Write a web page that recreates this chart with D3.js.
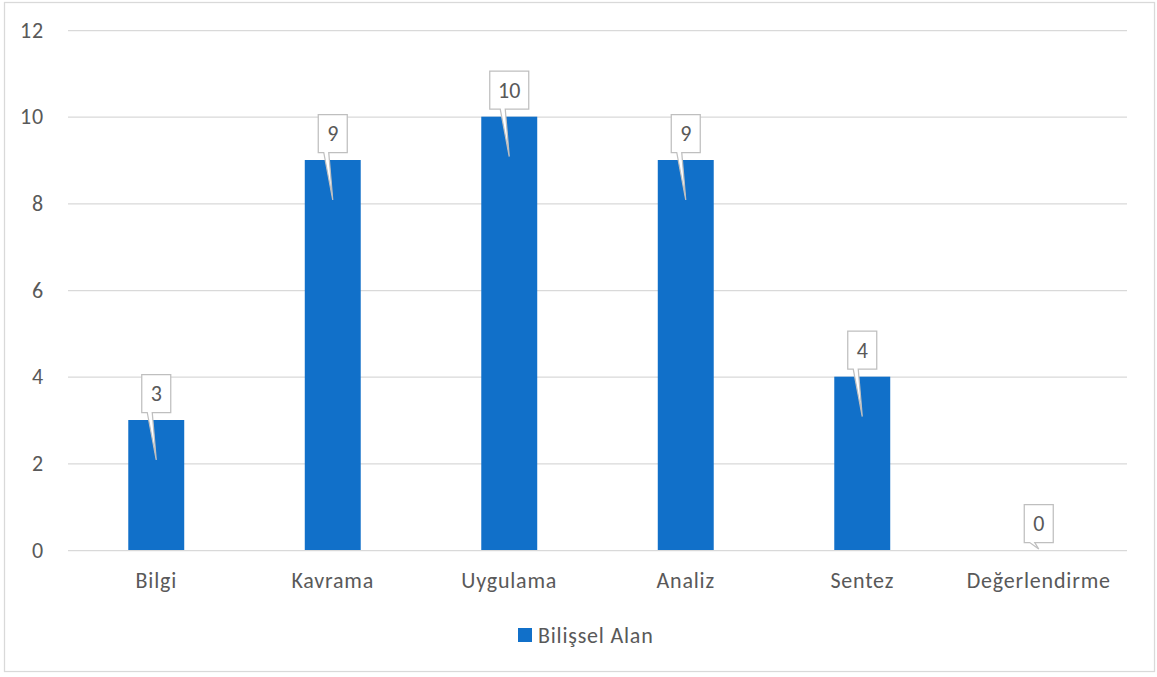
<!DOCTYPE html>
<html>
<head>
<meta charset="utf-8">
<script src="https://cdn.jsdelivr.net/npm/d3@7"></script>
<style>
  html, body { margin: 0; padding: 0; background: #fff; }
  svg { display: block; }
  text { font-family: Carlito, Calibri, Lato, "Open Sans", sans-serif; fill: #595959; letter-spacing: 0.8px; }
</style>
</head>
<body>
<svg id="chart" width="1157" height="677"></svg>
<script>
// Bloom levels and the number of items in each
const categories = ["Bilgi", "Kavrama", "Uygulama", "Analiz", "Sentez", "Değerlendirme"];
const values = [3, 9, 10, 9, 4, 0];
const yTicks = [0, 2, 4, 6, 8, 10, 12];
const seriesName = "Bilişsel Alan";

const plot = { left: 68, right: 1127, top: 30, bottom: 550 };
const barColor = "#1170C9";
const fontSize = 22;
const fontFamily = "Carlito, Calibri, Lato, 'Open Sans', sans-serif";

const svg = d3.select("#chart");

// outer chart frame
svg.append("rect")
  .attr("x", 4.5).attr("y", 2.5)
  .attr("width", 1150).attr("height", 669)
  .attr("fill", "#fff").attr("stroke", "#D9D9D9").attr("stroke-width", 1.25);

const x = d3.scaleBand()
  .domain(categories)
  .range([plot.left, plot.right])
  .paddingInner(0.683)
  .paddingOuter(0.683 / 2);

const y = d3.scaleLinear().domain([0, 12]).range([plot.bottom, plot.top]);

// horizontal gridlines with value labels
const yAxis = d3.axisLeft(y).tickValues(yTicks).tickSize(-(plot.right - plot.left)).tickPadding(24);
const gy = svg.append("g").attr("transform", `translate(${plot.left},0)`).call(yAxis);
gy.select(".domain").remove();
gy.selectAll(".tick line").attr("stroke", "#D9D9D9").attr("stroke-width", 1.25);
gy.selectAll(".tick text")
  .attr("fill", "#595959")
  .style("font-size", fontSize + "px")
  .style("font-family", fontFamily);

// category labels under the baseline
const xAxis = d3.axisBottom(x).tickSize(0).tickPadding(22);
const gx = svg.append("g").attr("transform", `translate(0,${plot.bottom})`).call(xAxis);
gx.select(".domain").remove();
gx.selectAll(".tick text")
  .attr("fill", "#595959")
  .style("font-size", fontSize + "px")
  .style("font-family", fontFamily);

// bars
svg.append("g").selectAll("rect")
  .data(values)
  .join("rect")
  .attr("x", (d, i) => x(categories[i]))
  .attr("y", d => y(d))
  .attr("width", x.bandwidth())
  .attr("height", d => y(0) - y(d))
  .attr("fill", barColor);

// value callouts: a box above each bar with a pointer into the bar
const callouts = svg.append("g");
values.forEach((v, i) => {
  const cx = x(categories[i]) + x.bandwidth() / 2;
  const top = y(v);
  const tipY = Math.min(top + 40, y(0) - 1);
  const g = callouts.append("g");
  const label = g.append("text")
    .attr("x", cx).attr("text-anchor", "middle")
    .style("font-size", fontSize + "px")
    .style("letter-spacing", "0px")
    .text(v);
  const tw = label.node().getComputedTextLength();
  const bw = Math.round(Math.max(tw + 17, 29)), bh = 38;
  const bx = cx - bw / 2, bBottom = top - 7.5, by = bBottom - bh;
  const p = d3.path();
  p.moveTo(bx, by);
  p.lineTo(bx + bw, by);
  p.lineTo(bx + bw, bBottom);
  p.lineTo(cx - 4, bBottom);
  p.lineTo(cx, tipY);
  p.lineTo(cx - 9, bBottom);
  p.lineTo(bx, bBottom);
  p.closePath();
  g.insert("path", "text")
    .attr("d", p.toString())
    .attr("fill", "#fff")
    .attr("stroke", "#BFBFBF")
    .attr("stroke-width", 1.25);
  label.attr("y", by + bh / 2).attr("dy", "0.35em");
});

// legend
const legend = svg.append("g");
legend.append("rect")
  .attr("x", 518).attr("y", 628).attr("width", 14).attr("height", 14)
  .attr("fill", barColor);
legend.append("text")
  .attr("x", 538).attr("y", 635).attr("dy", "0.35em")
  .style("font-size", fontSize + "px")
  .text(seriesName);
</script>
</body>
</html>
